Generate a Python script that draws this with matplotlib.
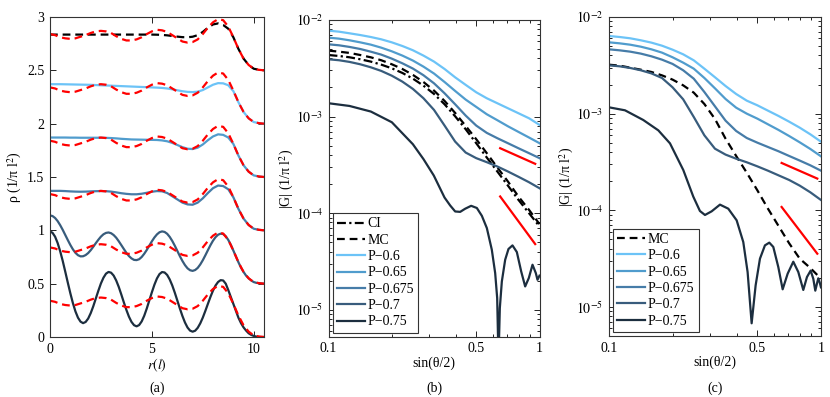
import numpy as np
import matplotlib
matplotlib.use("Agg")
import matplotlib.pyplot as plt
from matplotlib.ticker import FixedLocator, NullFormatter, LogLocator, FuncFormatter

plt.rcParams['font.family'] = ['Liberation Serif', 'DejaVu Serif']
plt.rcParams['mathtext.fontset'] = 'stix'
plt.rcParams['font.size'] = 10

# ---------------- data: panel (a) ----------------
r_grid = [0.0, 0.25, 0.5, 0.75, 1.0, 1.25, 1.5, 1.75, 2.0, 2.25, 2.5, 2.75, 3.0, 3.25, 3.5,
          3.75, 4.0, 4.25, 4.5, 4.75, 5.0, 5.25, 5.5, 5.75, 6.0, 6.25, 6.5, 6.75, 7.0, 7.25,
          7.5, 7.75, 8.0, 8.25, 8.5, 8.75, 9.0, 9.25, 9.5, 9.75, 10.0, 10.25, 10.5]
r_fine = [i * 0.125 for i in range(85)]
rho_ref = [0.34, 0.33, 0.31, 0.30, 0.295, 0.30, 0.315, 0.33, 0.35, 0.365, 0.37, 0.365, 0.35,
           0.32, 0.295, 0.28, 0.28, 0.29, 0.31, 0.34, 0.365, 0.38, 0.375, 0.36, 0.33, 0.30,
           0.27, 0.26, 0.265, 0.29, 0.34, 0.40, 0.45, 0.48, 0.47, 0.41, 0.31, 0.20, 0.11,
           0.05, 0.015, 0.005, 0.0]
rho_p075 = [0.99, 0.977, 0.941, 0.882, 0.805, 0.714, 0.613, 0.51, 0.41, 0.318, 0.24, 0.181,
            0.144, 0.13, 0.141, 0.173, 0.224, 0.288, 0.361, 0.434, 0.502, 0.556, 0.594, 0.61,
            0.603, 0.576, 0.53, 0.47, 0.399, 0.325, 0.254, 0.191, 0.142, 0.111, 0.10, 0.112,
            0.146, 0.199, 0.267, 0.343, 0.419, 0.49, 0.549, 0.59, 0.609, 0.605, 0.582, 0.54,
            0.484, 0.416, 0.342, 0.267, 0.197, 0.136, 0.089, 0.06, 0.05, 0.059, 0.086, 0.128,
            0.182, 0.245, 0.311, 0.376, 0.435, 0.483, 0.516, 0.533, 0.53, 0.50, 0.44, 0.375,
            0.31, 0.245, 0.18, 0.13, 0.09, 0.06, 0.035, 0.02, 0.01, 0.004, 0.0, 0.0, 0.0]
rho_p070 = [0.64, 0.634, 0.616, 0.587, 0.549, 0.505, 0.457, 0.409, 0.363, 0.322, 0.289, 0.267,
            0.256, 0.257, 0.268, 0.287, 0.314, 0.346, 0.38, 0.412, 0.441, 0.463, 0.476, 0.48,
            0.473, 0.456, 0.431, 0.398, 0.362, 0.325, 0.289, 0.259, 0.237, 0.223, 0.221, 0.229,
            0.25, 0.28, 0.316, 0.357, 0.397, 0.433, 0.462, 0.482, 0.49, 0.485, 0.468, 0.439,
            0.401, 0.356, 0.307, 0.258, 0.213, 0.174, 0.144, 0.126, 0.12, 0.128, 0.148, 0.18,
            0.22, 0.266, 0.314, 0.361, 0.403, 0.436, 0.459, 0.469, 0.465, 0.445, 0.41, 0.365,
            0.31, 0.255, 0.20, 0.15, 0.11, 0.075, 0.05, 0.03, 0.015, 0.008, 0.005, 0.002, 0.0]
rho_p0675 = [0.37, 0.37, 0.37, 0.368, 0.365, 0.363, 0.362, 0.363, 0.365, 0.367, 0.368, 0.367, 0.363,
             0.356, 0.348, 0.342, 0.338, 0.338, 0.343, 0.352, 0.362, 0.368, 0.366, 0.35, 0.32, 0.29,
             0.26, 0.243, 0.24, 0.26, 0.30, 0.35, 0.395, 0.42, 0.415, 0.385, 0.31, 0.20, 0.11, 0.05,
             0.015, 0.005, 0.0]
rho_p065 = [0.37, 0.37, 0.37, 0.37, 0.369, 0.369, 0.368, 0.368, 0.368, 0.368, 0.368, 0.367, 0.365,
            0.362, 0.358, 0.355, 0.352, 0.351, 0.35, 0.349, 0.348, 0.347, 0.343, 0.335, 0.32, 0.30,
            0.28, 0.265, 0.262, 0.275, 0.305, 0.345, 0.38, 0.40, 0.395, 0.37, 0.31, 0.20, 0.11, 0.05,
            0.015, 0.005, 0.0]
rho_p060 = [0.37, 0.37, 0.37, 0.369, 0.368, 0.367, 0.366, 0.365, 0.364, 0.362, 0.36, 0.358, 0.356,
            0.354, 0.352, 0.35, 0.348, 0.346, 0.344, 0.342, 0.34, 0.338, 0.335, 0.33, 0.322, 0.313,
            0.304, 0.298, 0.296, 0.30, 0.315, 0.34, 0.365, 0.38, 0.378, 0.36, 0.305, 0.20, 0.11, 0.05,
            0.015, 0.005, 0.0]
rho_mc = [0.335] * 21 + [0.334, 0.332, 0.328, 0.322, 0.316, 0.311, 0.31, 0.315, 0.33, 0.36, 0.40,
                         0.43, 0.44, 0.425, 0.39, 0.31, 0.20, 0.11, 0.05, 0.015, 0.005, 0.0]
offsets_a = [0.0, 0.5, 1.0, 1.5, 2.0, 2.5]

# ---------------- data: panel (b) ----------------
q_grid = [0.1, 0.1122, 0.1259, 0.1413, 0.1585, 0.1778, 0.1995, 0.2239, 0.2512, 0.2818, 0.3162,
          0.3548, 0.3981, 0.4467, 0.5012, 0.5623, 0.6310, 0.7079, 0.7943, 0.8913, 1.0]
Gb_p060 = [7.76e-3, 7.57e-3, 7.28e-3, 6.99e-3, 6.67e-3, 6.31e-3, 5.87e-3, 5.38e-3, 4.86e-3, 4.28e-3,
           3.71e-3, 3.11e-3, 2.55e-3, 2.13e-3, 1.785e-3, 1.548e-3, 1.374e-3, 1.22e-3, 1.083e-3,
           9.61e-4, 8.2e-4]
Gb_p065 = [6.57e-3, 6.41e-3, 6.16e-3, 5.87e-3, 5.56e-3, 5.17e-3, 4.74e-3, 4.28e-3, 3.8e-3, 3.29e-3,
           2.79e-3, 2.28e-3, 1.843e-3, 1.499e-3, 1.259e-3, 1.057e-3, 9.17e-4, 7.94e-4, 6.94e-4,
           6.07e-4, 5.3e-4]
Gb_p0675 = [5.6e-3, 5.47e-3, 5.26e-3, 5.01e-3, 4.7e-3, 4.38e-3, 3.98e-3, 3.56e-3, 3.14e-3, 2.68e-3,
            2.21e-3, 1.743e-3, 1.341e-3, 1.024e-3, 8.07e-4, 6.78e-4, 5.97e-4, 5.3e-4, 4.7e-4,
            4.18e-4, 3.71e-4]
Gb_p070 = [3.92e-3, 3.83e-3, 3.68e-3, 3.48e-3, 3.24e-3, 2.97e-3, 2.65e-3, 2.3e-3, 1.932e-3, 1.548e-3,
           1.172e-3, 8.07e-4, 5.51e-4, 4.24e-4, 3.71e-4, 3.37e-4, 3.04e-4, 2.7e-4, 2.38e-4,
           2.09e-4, 1.81e-4]
Gb_mc = [4.82e-3, 4.7e-3, 4.56e-3, 4.34e-3, 4.11e-3, 3.83e-3, 3.48e-3, 3.11e-3, 2.7e-3, 2.28e-3,
         1.858e-3, 1.452e-3, 1.091e-3, 8.0e-4, 5.83e-4, 4.18e-4, 2.97e-4, 2.13e-4, 1.487e-4,
         1.083e-4, 7.69e-5]
Gb_ci = [4.34e-3, 4.24e-3, 4.11e-3, 3.92e-3, 3.71e-3, 3.45e-3, 3.16e-3, 2.83e-3, 2.47e-3, 2.09e-3,
         1.715e-3, 1.341e-3, 1.008e-3, 7.4e-4, 5.3e-4, 3.77e-4, 2.7e-4, 1.932e-4, 1.374e-4,
         1.0e-4, 7.28e-5]
qb_p075 = [0.1, 0.1257, 0.1587, 0.1996, 0.2511, 0.282, 0.3155, 0.3547, 0.3772, 0.3984, 0.4207,
           0.4443, 0.4743, 0.5047, 0.533, 0.5629, 0.5942, 0.6165, 0.6301, 0.6393, 0.6486, 0.663,
           0.6876, 0.7128, 0.7447, 0.7809, 0.8188, 0.8552, 0.8902, 0.9265, 0.9607, 0.9784, 1.0]
Gb_p075 = [1.374e-3, 1.288e-3, 1.127e-3, 8.73e-4, 5.17e-4, 3.62e-4, 2.45e-4, 1.45e-4, 1.2e-4,
           1.04e-4, 1.03e-4, 1.11e-4, 1.19e-4, 1.13e-4, 9.38e-5, 7.0e-5, 4.18e-5, 2.39e-5, 1.32e-5,
           3.0e-6, 1.04e-5, 1.96e-5, 3.29e-5, 4.25e-5, 4.63e-5, 3.95e-5, 2.49e-5, 1.74e-5, 2.13e-5,
           2.92e-5, 2.39e-5, 2.04e-5, 2.25e-5]
ref_b_q = [0.651, 0.954]
ref_b_slope1 = [4.70e-4, 3.24e-4]
ref_b_slope3 = [1.487e-4, 4.78e-5]

# ---------------- data: panel (c) ----------------
Gc_p060 = [6.36e-3, 6.21e-3, 6.02e-3, 5.74e-3, 5.43e-3, 5.05e-3, 4.59e-3, 4.11e-3, 3.56e-3, 2.92e-3,
           2.38e-3, 1.932e-3, 1.597e-3, 1.363e-3, 1.22e-3, 1.074e-3, 9.46e-4, 8.26e-4, 7.16e-4,
           6.11e-4, 5.13e-4]
Gc_p065 = [5.47e-3, 5.34e-3, 5.17e-3, 4.93e-3, 4.63e-3, 4.28e-3, 3.83e-3, 3.37e-3, 2.92e-3, 2.34e-3,
           1.828e-3, 1.418e-3, 1.153e-3, 1.0e-3, 8.88e-4, 7.76e-4, 6.78e-4, 5.87e-4, 5.05e-4,
           4.31e-4, 3.62e-4]
Gc_p0675 = [4.63e-3, 4.52e-3, 4.38e-3, 4.18e-3, 3.92e-3, 3.62e-3, 3.27e-3, 2.81e-3, 2.3e-3, 1.675e-3,
            1.191e-3, 8.46e-4, 6.62e-4, 5.6e-4, 5.01e-4, 4.52e-4, 4.08e-4, 3.65e-4, 3.27e-4,
            2.92e-4, 2.57e-4]
Gc_p070 = [3.16e-3, 3.09e-3, 2.97e-3, 2.81e-3, 2.61e-3, 2.34e-3, 1.873e-3, 1.407e-3, 9.24e-4, 5.97e-4,
           4.34e-4, 3.77e-4, 3.42e-4, 3.14e-4, 2.85e-4, 2.57e-4, 2.3e-4, 2.06e-4, 1.8e-4,
           1.535e-4, 1.279e-4]
Gc_mc = [3.21e-3, 3.14e-3, 2.99e-3, 2.85e-3, 2.7e-3, 2.49e-3, 2.25e-3, 1.963e-3, 1.649e-3, 1.259e-3,
         8.81e-4, 5.51e-4, 3.65e-4, 2.45e-4, 1.61e-4, 1.04e-4, 6.88e-5, 4.56e-5, 3.16e-5,
         2.53e-5, 1.963e-5]
qc_p075 = [0.1, 0.119, 0.1451, 0.1709, 0.194, 0.2242, 0.2499, 0.2686, 0.2837, 0.305, 0.3339,
           0.3654, 0.4002, 0.4301, 0.4508, 0.471, 0.4919, 0.5155, 0.5442, 0.5706, 0.5959, 0.6292,
           0.6597, 0.6965, 0.7405, 0.7819, 0.8254, 0.859, 0.8941, 0.9202, 0.9403, 0.9574, 0.9714,
           0.9856, 1.0]
Gc_p075 = [1.163e-3, 1.083e-3, 8.6e-4, 6.72e-4, 4.93e-4, 2.61e-4, 1.385e-4, 9.84e-5, 8.95e-5,
           9.76e-5, 1.145e-4, 1.04e-4, 7.88e-5, 4.7e-5, 2.3e-5, 6.78e-6, 1.675e-5, 3.16e-5, 4.34e-5,
           4.63e-5, 4.18e-5, 2.59e-5, 1.523e-5, 2.21e-5, 2.94e-5, 2.3e-5, 1.5e-5, 2.04e-5, 2.38e-5,
           1.96e-5, 1.476e-5, 1.743e-5, 1.98e-5, 1.81e-5, 1.597e-5]
ref_c_q = [0.6523, 0.961]
ref_c_slope1 = [3.09e-4, 2.13e-4]
ref_c_slope3 = [1.083e-4, 3.56e-5]

series_labels = ['P\u22120.6', 'P\u22120.65', 'P\u22120.675', 'P\u22120.7', 'P\u22120.75']
colors = ['#6cc3f7', '#509ccd', '#467ca8', '#385c7c', '#1c2e3f']

# ---------------- figure ----------------
fig = plt.figure(figsize=(8.3, 3.97), dpi=100)
axa = fig.add_axes([0.0602, 0.1511, 0.2578, 0.8061])
axb = fig.add_axes([0.3958, 0.1519, 0.2542, 0.7977])
axc = fig.add_axes([0.7337, 0.1537, 0.2554, 0.8035])

LW = 1.6
DASH = (0, (3.5, 2.2))
ref = np.array(rho_ref)
rows = [(r_fine, rho_p075, colors[4]), (r_fine, rho_p070, colors[3]),
        (r_grid, rho_p0675, colors[2]), (r_grid, rho_p065, colors[1]),
        (r_grid, rho_p060, colors[0])]
for i, (rx, vals, c) in enumerate(rows):
    axa.plot(rx, np.array(vals) + offsets_a[i], color=c, lw=LW)
    axa.plot(r_grid, ref + offsets_a[i], color='red', lw=LW, ls=DASH)
axa.plot(r_grid, np.array(rho_mc) + offsets_a[5], color='black', lw=LW, ls=DASH)
axa.plot(r_grid, ref + offsets_a[5], color='red', lw=LW, ls=DASH)
axa.set_xlim(0, 10.5)
axa.set_ylim(0, 3)
axa.set_xticks([0, 5, 10])
axa.set_yticks([0, 0.5, 1, 1.5, 2, 2.5, 3])
axa.set_yticklabels(['0', '0.5', '1', '1.5', '2', '2.5', '3'])
axa.set_xlabel(r'$r(l)$', labelpad=1)
axa.set_ylabel('\u03c1 (1/\u03c0 l$^2$)', labelpad=2)

def log_fmt(v, pos):
    e = int(round(np.log10(v)))
    return r'$10^{%d}$' % e

def style_log(ax, ymin):
    ax.set_xscale('log')
    ax.set_yscale('log')
    ax.set_xlim(0.1, 1)
    ax.set_ylim(ymin, 1e-2)
    ax.xaxis.set_major_locator(FixedLocator([0.1, 0.5, 1.0]))
    ax.xaxis.set_major_formatter(FuncFormatter(lambda v, p: {0.1: '0.1', 0.5: '0.5', 1.0: '1'}.get(round(v, 2), '')))
    ax.xaxis.set_minor_locator(FixedLocator([0.2, 0.3, 0.4, 0.6, 0.7, 0.8, 0.9]))
    ax.xaxis.set_minor_formatter(NullFormatter())
    ax.yaxis.set_major_locator(LogLocator(base=10, numticks=10))
    ax.yaxis.set_major_formatter(FuncFormatter(log_fmt))
    ax.yaxis.set_minor_locator(LogLocator(base=10, subs=np.arange(2, 10), numticks=20))
    ax.yaxis.set_minor_formatter(NullFormatter())
    ax.set_xlabel('sin(\u03b8/2)', labelpad=1)
    ax.set_ylabel('|G| (1/\u03c0 l$^2$)', labelpad=0)

# panel (b)
axb.plot(q_grid, Gb_ci, color='black', lw=LW, ls=(0, (4, 1.5, 1, 1.5)), label='CI')
axb.plot(q_grid, Gb_mc, color='black', lw=LW, ls=DASH, label='MC')
for vals, c, lab in zip([Gb_p060, Gb_p065, Gb_p0675, Gb_p070], colors[:4], series_labels[:4]):
    axb.plot(q_grid, vals, color=c, lw=LW, label=lab)
axb.plot(qb_p075, Gb_p075, color=colors[4], lw=LW, label=series_labels[4])
axb.plot(ref_b_q, ref_b_slope1, color='red', lw=LW)
axb.plot(ref_b_q, ref_b_slope3, color='red', lw=LW)
style_log(axb, 10 ** -5.28)

# panel (c)
axc.plot(q_grid, Gc_mc, color='black', lw=LW, ls=DASH, label='MC')
for vals, c, lab in zip([Gc_p060, Gc_p065, Gc_p0675, Gc_p070], colors[:4], series_labels[:4]):
    axc.plot(q_grid, vals, color=c, lw=LW, label=lab)
axc.plot(qc_p075, Gc_p075, color=colors[4], lw=LW, label=series_labels[4])
axc.plot(ref_c_q, ref_c_slope1, color='red', lw=LW)
axc.plot(ref_c_q, ref_c_slope3, color='red', lw=LW)
style_log(axc, 10 ** -5.3)

for ax in (axa, axb, axc):
    ax.tick_params(which='both', direction='in', top=True, right=True, labelsize=10, pad=4)
    ax.tick_params(which='major', length=4, width=0.6)
    ax.tick_params(which='minor', length=2, width=0.6)
    for s in ax.spines.values():
        s.set_linewidth(0.8)
        s.set_color('#333333')

for ax in (axb, axc):
    leg = ax.legend(loc='lower left', fontsize=10, handlelength=2.0, handletextpad=0.2,
                    labelspacing=0.24, borderpad=0.3, borderaxespad=0.3, frameon=True,
                    fancybox=False, framealpha=1)
    leg.get_frame().set_edgecolor('#333333')
    leg.get_frame().set_linewidth(0.8)

for ax, lab in ((axa, '(a)'), (axb, '(b)'), (axc, '(c)')):
    pos = ax.get_position()
    fig.text((pos.x0 + pos.x1) / 2, 0.022, lab, ha='center', va='center', fontsize=10)

fig.savefig('out.png', dpi=100)
